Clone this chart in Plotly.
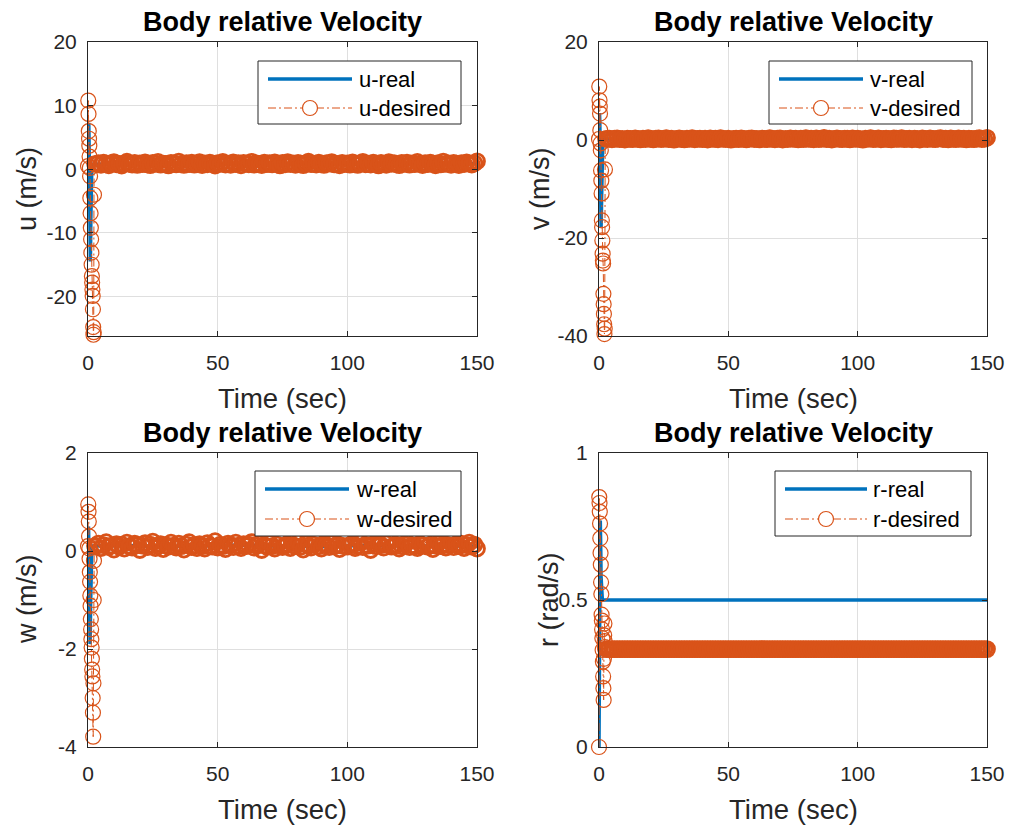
import plotly.graph_objects as go

W, H = 1013, 829

# ---------------- data ----------------
T_TRANS = [0.0, 0.1, 0.2, 0.3, 0.4, 0.5, 0.6, 0.7, 0.8, 0.9, 1.0, 1.1, 1.2,
           1.3, 1.4, 1.5, 1.6, 1.7, 1.8, 1.9, 2.0, 2.1, 2.2, 2.3, 2.4]
T_STEADY = list(range(3, 151))
T_REAL_STEADY = [3, 15, 30, 45, 60, 75, 90, 105, 120, 135, 150]

U_REAL_TRANS = [0.0, 3.0, 6.5, 7.3, 5.0, 1.0, -4.0, -9.0, -13.0, -14.5, -12.0, -8.0, -4.0,
                -1.0, 0.5, 1.0, 0.9, 0.8, 0.8, 0.9, 0.8, 0.8, 0.8, 0.8, 0.8]
U_REAL_STEADY = [0.85, 0.8, 0.9, 0.85, 0.8, 0.88, 0.84, 0.86, 0.82, 0.87, 0.85]
U_DES_TRANS = [0.5, 10.8, 8.7, 6.0, 4.8, 3.7, 2.0, 0.2, -1.1, -4.5, -6.9, -9.2, -11.0,
               -13.1, -15.0, -16.8, -17.8, -18.9, -19.9, -22.0, -24.8, -26.0, -25.6, -4.0, 0.9]
U_DES_STEADY = [
    0.82, 0.95, 0.71, 1.05, 0.88, 0.63, 0.97, 1.12, 0.79, 0.84,
    0.58, 0.91, 1.18, 0.86, 0.74, 1.02, 0.69, 0.93, 0.81, 1.08,
    0.77, 0.64, 0.99, 0.87, 1.15, 0.72, 0.90, 0.83, 0.61, 1.01,
    0.94, 0.76, 1.21, 0.85, 0.68, 0.96, 0.80, 1.06, 0.73, 0.89,
    1.10, 0.66, 0.92, 0.78, 1.03, 0.87, 0.59, 0.98, 0.84, 1.14,
    0.75, 0.90, 0.70, 1.07, 0.82, 0.95, 0.62, 1.00, 0.88, 0.79,
    1.16, 0.73, 0.93, 0.85, 0.67, 1.04, 0.81, 0.97, 0.76, 1.09,
    0.86, 0.60, 0.99, 0.78, 1.12, 0.83, 0.92, 0.71, 1.02, 0.87,
    0.65, 0.96, 1.19, 0.80, 0.89, 0.74, 1.05, 0.84, 0.69, 0.98,
    0.91, 1.13, 0.77, 0.86, 0.63, 1.01, 0.82, 0.94, 0.72, 1.08,
    0.85, 0.68, 0.97, 1.17, 0.79, 0.90, 0.75, 1.03, 0.88, 0.61,
    1.00, 0.83, 0.70, 1.11, 0.87, 0.95, 0.78, 0.64, 0.99, 0.84,
    1.06, 0.73, 0.92, 0.81, 1.15, 0.86, 0.67, 0.96, 0.80, 1.04,
    0.89, 0.62, 0.98, 0.76, 1.20, 0.85, 0.93, 0.71, 1.02, 0.87,
    0.66, 0.97, 0.82, 1.09, 0.90, 0.74, 0.95, 1.25]

V_REAL_TRANS = [0.0, 3.0, 5.5, 4.0, 0.5, -4.0, -9.0, -14.0, -17.8, -16.0, -12.0, -7.0, -3.0,
                -0.5, 0.3, 0.4, 0.3, 0.2, 0.25, 0.2, 0.2, 0.2, 0.2, 0.2, 0.2]
V_REAL_STEADY = [0.2, 0.22, 0.18, 0.25, 0.2, 0.23, 0.19, 0.24, 0.21, 0.2, 0.22]
V_DES_TRANS = [0.2, 10.9, 8.1, 6.8, 5.4, 2.0, -0.7, -2.1, -6.2, -8.3, -10.9, -16.4, -17.8,
               -20.5, -23.2, -24.6, -25.2, -31.4, -33.5, -35.5, -37.6, -39.6, -38.5, -6.0, 0.3]
V_DES_STEADY = [
    0.21, 0.30, 0.14, 0.26, 0.35, 0.18, 0.24, 0.09, 0.29, 0.22,
    0.16, 0.33, 0.25, 0.11, 0.28, 0.20, 0.37, 0.23, 0.13, 0.27,
    0.31, 0.19, 0.24, 0.40, 0.17, 0.26, 0.08, 0.22, 0.34, 0.20,
    0.12, 0.28, 0.23, 0.36, 0.15, 0.25, 0.30, 0.18, 0.27, 0.10,
    0.33, 0.21, 0.26, 0.14, 0.38, 0.24, 0.19, 0.29, 0.07, 0.23,
    0.27, 0.16, 0.32, 0.22, 0.11, 0.28, 0.35, 0.20, 0.25, 0.13,
    0.30, 0.24, 0.18, 0.39, 0.21, 0.15, 0.26, 0.31, 0.09, 0.24,
    0.19, 0.34, 0.22, 0.27, 0.12, 0.29, 0.17, 0.36, 0.23, 0.26,
    0.14, 0.31, 0.20, 0.25, 0.41, 0.18, 0.28, 0.10, 0.24, 0.33,
    0.22, 0.16, 0.30, 0.26, 0.13, 0.35, 0.21, 0.27, 0.19, 0.08,
    0.29, 0.24, 0.37, 0.17, 0.25, 0.32, 0.15, 0.23, 0.28, 0.20,
    0.11, 0.33, 0.26, 0.21, 0.38, 0.18, 0.24, 0.30, 0.14, 0.27,
    0.22, 0.09, 0.31, 0.25, 0.19, 0.34, 0.23, 0.16, 0.29, 0.40,
    0.20, 0.26, 0.13, 0.32, 0.24, 0.18, 0.35, 0.21, 0.27, 0.12,
    0.30, 0.23, 0.17, 0.28, 0.36, 0.19, 0.25, 0.45]

W_REAL_TRANS = [0.0, 0.3, 0.5, 0.2, -0.3, -0.8, -1.3, -1.7, -1.9, -1.6, -1.1, -0.6, -0.2,
                0.0, 0.08, 0.1, 0.1, 0.09, 0.1, 0.1, 0.1, 0.1, 0.1, 0.1, 0.1]
W_REAL_STEADY = [0.1, 0.11, 0.09, 0.1, 0.12, 0.1, 0.09, 0.11, 0.1, 0.1, 0.1]
W_DES_TRANS = [0.1, 0.95, 0.8, 0.6, 0.3, 0.05, -0.16, -0.43, -0.63, -0.91, -1.12, -1.39, -1.6,
               -1.8, -1.97, -2.2, -2.42, -2.56, -3.0, -3.3, -3.79, -2.7, -1.0, -0.2, 0.1]
W_DES_STEADY = [
    0.10, 0.15, 0.06, 0.12, 0.18, 0.08, 0.11, 0.03, 0.14, 0.09,
    0.13, 0.05, 0.17, 0.10, 0.07, 0.15, 0.12, 0.02, 0.11, 0.16,
    0.08, 0.13, 0.19, 0.06, 0.10, 0.14, 0.04, 0.12, 0.09, 0.17,
    0.11, 0.07, 0.15, 0.10, 0.03, 0.13, 0.18, 0.08, 0.12, 0.06,
    0.14, 0.10, 0.05, 0.16, 0.11, 0.09, 0.20, 0.07, 0.13, 0.10,
    0.04, 0.15, 0.12, 0.08, 0.17, 0.11, 0.06, 0.14, 0.10, 0.13,
    0.18, 0.07, 0.11, 0.15, 0.02, 0.12, 0.09, 0.16, 0.10, 0.05,
    0.13, 0.19, 0.08, 0.11, 0.14, 0.06, 0.12, 0.10, 0.17, 0.09,
    0.03, 0.15, 0.11, 0.07, 0.13, 0.18, 0.10, 0.05, 0.14, 0.12,
    0.08, 0.16, 0.10, 0.13, 0.04, 0.11, 0.19, 0.09, 0.12, 0.15,
    0.06, 0.10, 0.17, 0.08, 0.13, 0.11, 0.02, 0.14, 0.10, 0.16,
    0.12, 0.07, 0.15, 0.18, 0.09, 0.11, 0.13, 0.05, 0.10, 0.14,
    0.17, 0.08, 0.12, 0.10, 0.06, 0.15, 0.11, 0.19, 0.09, 0.13,
    0.04, 0.11, 0.16, 0.10, 0.13, 0.07, 0.12, 0.18, 0.08, 0.14,
    0.10, 0.15, 0.06, 0.12, 0.17, 0.09, 0.13, 0.05]

R_REAL_TRANS = [0.0, 0.1, 0.3, 0.5, 0.68, 0.77, 0.74, 0.66, 0.58, 0.53, 0.51, 0.50, 0.50,
                0.50, 0.50, 0.50, 0.50, 0.50, 0.50, 0.50, 0.50, 0.50, 0.50, 0.50, 0.50]
R_REAL_STEADY = [0.5, 0.5, 0.5, 0.5, 0.5, 0.5, 0.5, 0.5, 0.5, 0.5, 0.5]
R_DES_TRANS = [0.0, 0.85, 0.83, 0.80, 0.76, 0.71, 0.66, 0.62, 0.56, 0.52, 0.45, 0.43, 0.40,
               0.37, 0.33, 0.29, 0.24, 0.20, 0.16, 0.30, 0.38, 0.42, 0.36, 0.34, 0.333]
R_DES_STEADY = [
    0.333, 0.333, 0.333, 0.333, 0.333, 0.333, 0.333, 0.333, 0.333, 0.333,
    0.333, 0.333, 0.333, 0.333, 0.333, 0.333, 0.333, 0.333, 0.333, 0.333,
    0.333, 0.333, 0.333, 0.333, 0.333, 0.333, 0.333, 0.333, 0.333, 0.333,
    0.333, 0.333, 0.333, 0.333, 0.333, 0.333, 0.333, 0.333, 0.333, 0.333,
    0.333, 0.333, 0.333, 0.333, 0.333, 0.333, 0.333, 0.333, 0.333, 0.333,
    0.333, 0.333, 0.333, 0.333, 0.333, 0.333, 0.333, 0.333, 0.333, 0.333,
    0.333, 0.333, 0.333, 0.333, 0.333, 0.333, 0.333, 0.333, 0.333, 0.333,
    0.333, 0.333, 0.333, 0.333, 0.333, 0.333, 0.333, 0.333, 0.333, 0.333,
    0.333, 0.333, 0.333, 0.333, 0.333, 0.333, 0.333, 0.333, 0.333, 0.333,
    0.333, 0.333, 0.333, 0.333, 0.333, 0.333, 0.333, 0.333, 0.333, 0.333,
    0.333, 0.333, 0.333, 0.333, 0.333, 0.333, 0.333, 0.333, 0.333, 0.333,
    0.333, 0.333, 0.333, 0.333, 0.333, 0.333, 0.333, 0.333, 0.333, 0.333,
    0.333, 0.333, 0.333, 0.333, 0.333, 0.333, 0.333, 0.333, 0.333, 0.333,
    0.333, 0.333, 0.333, 0.333, 0.333, 0.333, 0.333, 0.333, 0.333, 0.333,
    0.333, 0.333, 0.333, 0.333, 0.333, 0.333, 0.333, 0.333]

X_TICKS = [0, 50, 100, 150]
X_TICK_TEXT = ["0", "50", "100", "150"]
U_TICKS = [-20, -10, 0, 10, 20]
U_TICK_TEXT = ["-20", "-10", "0", "10", "20"]
V_TICKS = [-40, -20, 0, 20]
V_TICK_TEXT = ["-40", "-20", "0", "20"]
W_TICKS = [-4, -2, 0, 2]
W_TICK_TEXT = ["-4", "-2", "0", "2"]
R_TICKS = [0, 0.5, 1]
R_TICK_TEXT = ["0", "0.5", "1"]

TITLE = "Body relative Velocity"
X_LABEL = "Time (sec)"
PANELS = [
    dict(real=U_REAL_TRANS + U_REAL_STEADY, des=U_DES_TRANS + U_DES_STEADY,
         ylabel="u (m/s)", names=("u-real", "u-desired"),
         ticks=U_TICKS, ticktext=U_TICK_TEXT, yrange=[-26.2, 20]),
    dict(real=V_REAL_TRANS + V_REAL_STEADY, des=V_DES_TRANS + V_DES_STEADY,
         ylabel="v (m/s)", names=("v-real", "v-desired"),
         ticks=V_TICKS, ticktext=V_TICK_TEXT, yrange=[-40, 20]),
    dict(real=W_REAL_TRANS + W_REAL_STEADY, des=W_DES_TRANS + W_DES_STEADY,
         ylabel="w (m/s)", names=("w-real", "w-desired"),
         ticks=W_TICKS, ticktext=W_TICK_TEXT, yrange=[-4, 2]),
    dict(real=R_REAL_TRANS + R_REAL_STEADY, des=R_DES_TRANS + R_DES_STEADY,
         ylabel="r (rad/s)", names=("r-real", "r-desired"),
         ticks=R_TICKS, ticktext=R_TICK_TEXT, yrange=[0, 1]),
]

# ---------------- layout geometry (pixels) ----------------
BLUE = "#0072BD"
ORANGE = "#D95319"
AX = "#262626"
GRID = "#dfdfdf"
FONT = "Liberation Sans, Arial, Helvetica, sans-serif"

BOXES = [  # x0, x1, ytop, ybottom in pixels
    (88, 477, 42, 336), (599, 987, 42, 336),
    (88, 477, 453, 747), (599, 987, 453, 747),
]
YLABEL_X = [27, 540, 27, 549]
LEGENDS = [  # box x0,x1,y0,y1, line x0,x1, text x, row1 y, row2 y
    (258, 461, 61, 124, 268, 352, 357, 79, 108),
    (769, 972, 61, 124, 779, 863, 868, 79, 108),
    (255, 461, 471, 536, 265, 349, 354, 489, 519),
    (775, 971, 471, 536, 785, 867, 871, 489, 519),
]


def px(x):
    return x / W


def py(y):
    return 1 - y / H


fig = go.Figure()
annotations = []
shapes = []

t_real = T_TRANS + T_REAL_STEADY
t_des = T_TRANS + T_STEADY
ring_w = [1.2] * len(T_TRANS) + [2.8] * len(T_STEADY)

for i, p in enumerate(PANELS):
    n = "" if i == 0 else str(i + 1)
    x0, x1, yt, yb = BOXES[i]
    fig.add_trace(go.Scatter(
        x=t_real, y=p["real"], mode="lines", xaxis="x" + n, yaxis="y" + n,
        line=dict(color=BLUE, width=3.5), hoverinfo="skip"))
    fig.add_trace(go.Scatter(
        x=t_des, y=p["des"], mode="lines+markers", xaxis="x" + n, yaxis="y" + n,
        line=dict(color=ORANGE, width=1, dash="8px,3px,2px,3px"),
        marker=dict(symbol="circle-open", size=15, color=ORANGE,
                    line=dict(color=ORANGE, width=ring_w)),
        cliponaxis=False, hoverinfo="skip"))

    common = dict(showline=True, linecolor=AX, linewidth=1, mirror="ticks",
                  ticks="inside", ticklen=5, tickcolor=AX, tickwidth=1,
                  showgrid=True, gridcolor=GRID, gridwidth=1, zeroline=False,
                  automargin=False,
                  tickfont=dict(family=FONT, size=21, color=AX))
    fig.update_layout(**{
        "xaxis" + n: dict(domain=[px(x0), px(x1)], anchor="y" + n, range=[0, 150],
                          tickvals=X_TICKS, ticktext=X_TICK_TEXT,
                          ticklabelstandoff=8, **common),
        "yaxis" + n: dict(domain=[py(yb), py(yt)], anchor="x" + n, range=p["yrange"],
                          tickvals=p["ticks"], ticktext=p["ticktext"],
                          ticklabelstandoff=6, **common),
    })

    cx = (x0 + x1) / 2
    annotations.append(dict(x=px(cx), y=py(yt - 20), xref="paper", yref="paper",
                            text="<b>" + TITLE + "</b>", showarrow=False,
                            xanchor="center", yanchor="middle",
                            font=dict(family=FONT, size=27, color="#000")))
    annotations.append(dict(x=px(cx), y=py(yb + 62), xref="paper", yref="paper",
                            text=X_LABEL, showarrow=False,
                            xanchor="center", yanchor="middle",
                            font=dict(family=FONT, size=27.5, color=AX)))
    annotations.append(dict(x=px(YLABEL_X[i]), y=py((yt + yb) / 2), xref="paper",
                            yref="paper", text=p["ylabel"], showarrow=False,
                            textangle=-90, xanchor="center", yanchor="middle",
                            font=dict(family=FONT, size=27, color=AX)))

    # legend
    bx0, bx1, by0, by1, lx0, lx1, tx, r1, r2 = LEGENDS[i]
    shapes.append(dict(type="rect", xref="paper", yref="paper",
                       x0=px(bx0), x1=px(bx1), y0=py(by1), y1=py(by0),
                       line=dict(color=AX, width=1), fillcolor="white"))
    shapes.append(dict(type="line", xref="paper", yref="paper",
                       x0=px(lx0), x1=px(lx1), y0=py(r1), y1=py(r1),
                       line=dict(color=BLUE, width=3.5)))
    shapes.append(dict(type="line", xref="paper", yref="paper",
                       x0=px(lx0), x1=px(lx1), y0=py(r2), y1=py(r2),
                       line=dict(color=ORANGE, width=1, dash="8px,3px,2px,3px")))
    shapes.append(dict(type="circle", xref="paper", yref="paper",
                       xsizemode="pixel", ysizemode="pixel",
                       xanchor=px((lx0 + lx1) / 2), yanchor=py(r2),
                       x0=-7.5, x1=7.5, y0=-7.5, y1=7.5,
                       line=dict(color=ORANGE, width=1.2), fillcolor="white"))
    for yy, name in ((r1, p["names"][0]), (r2, p["names"][1])):
        annotations.append(dict(x=px(tx), y=py(yy), xref="paper", yref="paper",
                                text=name, showarrow=False, xanchor="left",
                                yanchor="middle",
                                font=dict(family=FONT, size=22, color="#000")))

fig.update_layout(
    width=W, height=H, margin=dict(l=0, r=0, t=0, b=0),
    plot_bgcolor="white", paper_bgcolor="white", showlegend=False,
    annotations=annotations, shapes=shapes,
)

fig.write_html("out.html", config={"displayModeBar": False},
               post_script="document.body.style.margin='0';"
                           "document.body.style.overflow='hidden';")
